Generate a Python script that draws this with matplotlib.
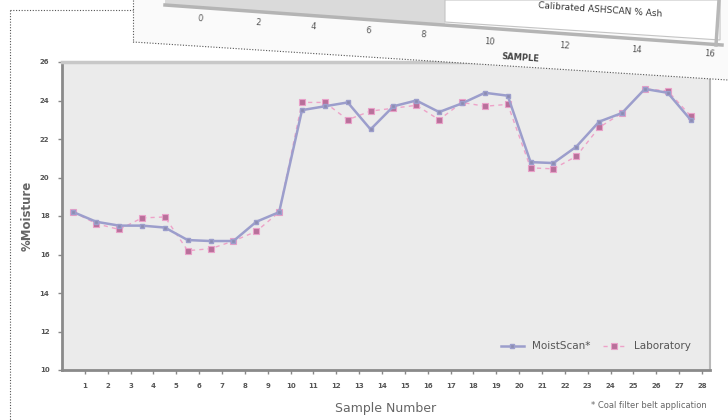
import matplotlib.pyplot as plt
from matplotlib.patches import Polygon

# sample data
samples = list(range(1, 29))
moistscan = [18.2, 17.7, 17.5, 17.5, 17.4, 16.75, 16.7, 16.7, 17.7, 18.2,
             23.5, 23.7, 23.9, 22.5, 23.7, 24.0, 23.4, 23.85, 24.4, 24.25,
             20.8, 20.75, 21.6, 22.9, 23.35, 24.6, 24.4, 23.0]
laboratory = [18.2, 17.6, 17.3, 17.9, 17.95, 16.2, 16.3, 16.7, 17.2, 18.2,
              23.9, 23.9, 23.0, 23.45, 23.6, 23.75, 23.0, 23.9, 23.7, 23.8,
              20.5, 20.45, 21.1, 22.6, 23.35, 24.6, 24.5, 23.2]
yticks = [10, 12, 14, 16, 18, 20, 22, 24, 26]

# overlaid card tick labels (other chart)
card_ticks = ['0', '2', '4', '6', '8', '10', '12', '14', '16']

fig = plt.figure(figsize=(7.28, 4.2), dpi=100)
ax = fig.add_axes([62 / 728, 50 / 420, 648 / 728, 308 / 420])
ax.set_facecolor('#ebebeb')

# points sit half a step left of the category labels
xs = [s - 0.5 for s in samples]
ax.plot(xs, laboratory, color='#eea2c8', lw=1.0, ls=(0, (3, 3)),
        marker='s', ms=4, mfc='#b8709a', mec='#e8a0c8', mew=0.8,
        label='Laboratory', zorder=3)
ax.plot(xs, moistscan, color='#9c9ecc', lw=1.8,
        marker='s', ms=2.5, mfc='#8c8cb0', mec='#9c9ecc',
        label='MoistScan*', zorder=4)

ax.set_xlim(0, 28.35)
ax.set_ylim(10, 26)
ax.set_xticks(samples)
ax.set_xticklabels([str(s) for s in samples], fontsize=5, fontweight='bold', color='#555555')
ax.set_yticks(yticks)
ax.set_yticklabels([str(t) for t in yticks], fontsize=5, fontweight='bold', color='#555555')
ax.tick_params(axis='both', length=3, width=1, color='#888888', pad=6)

for side in ['left', 'bottom']:
    ax.spines[side].set_color('#8a8a8a')
    ax.spines[side].set_linewidth(2)
ax.spines['top'].set_color('#c8c8c8')
ax.spines['top'].set_linewidth(2.5)
ax.spines['right'].set_color('#b8b8b8')
ax.spines['right'].set_linewidth(1.5)

ax.set_ylabel('%Moisture', fontsize=8.5, fontweight='bold', color='#666666', labelpad=4)
ax.set_xlabel('Sample Number', fontsize=9, color='#666666', labelpad=10)

h, l = ax.get_legend_handles_labels()
ax.legend(h[::-1], l[::-1], loc='lower right', ncol=2, frameon=False, fontsize=7.5,
          handlelength=2.2, columnspacing=1.2, labelcolor='#555555',
          bbox_to_anchor=(0.985, 0.03))

fig.text(707 / 728, 14 / 420, '* Coal filter belt application', fontsize=6,
         color='#666666', ha='right', va='center')

# overlay layer in pixel coordinates for the skewed card on top
ov = fig.add_axes([0, 0, 1, 1], zorder=10)
ov.set_xlim(0, 728)
ov.set_ylim(420, 0)
ov.axis('off')
ov.patch.set_alpha(0)

ov.add_patch(Polygon([(133, 0), (728, 0), (728, 80), (133, 42)], closed=True,
                     fc='#fafafa', ec='none'))
ov.add_patch(Polygon([(165, 0), (445, 0), (445, 24), (165, 5)], closed=True,
                     fc='#dadada', ec='none'))
ov.add_patch(Polygon([(445, 0), (720, 0), (720, 40), (445, 22)], closed=True,
                     fc='white', ec='#c4c4c4', lw=0.8))
ov.plot([165, 722], [5, 45], color='#b4b4b4', lw=2.5)
ov.plot([719, 716], [0, 45], color='#b8b8b8', lw=2.5)
ov.text(600, 10, 'Calibrated ASHSCAN % Ash', fontsize=6.5, color='#333333',
        ha='center', va='center', rotation=-4)

card_x = [200, 258, 313, 368, 423, 490, 565, 637, 710]
card_y = [19, 23, 27, 31, 35, 42, 46, 50, 54]
for tx, ty, lab in zip(card_x, card_y, card_ticks):
    ov.text(tx, ty, lab, fontsize=6, color='#555555', ha='center', va='center', rotation=-4)
ov.text(520, 58, 'SAMPLE', fontsize=6, fontweight='bold', color='#444444',
        ha='center', va='center', rotation=-4)

# dotted cut-out border
ov.plot([10, 10], [10, 420], color='#555555', lw=0.8, ls=(0, (1, 1.5)))
ov.plot([10, 133], [10, 10], color='#555555', lw=0.8, ls=(0, (1, 1.5)))
ov.plot([133, 133], [0, 42], color='#555555', lw=0.8, ls=(0, (1, 1.5)))
ov.plot([133, 728], [42, 80], color='#555555', lw=0.8, ls=(0, (1, 1.5)))

fig.savefig('out.png', dpi=100)
